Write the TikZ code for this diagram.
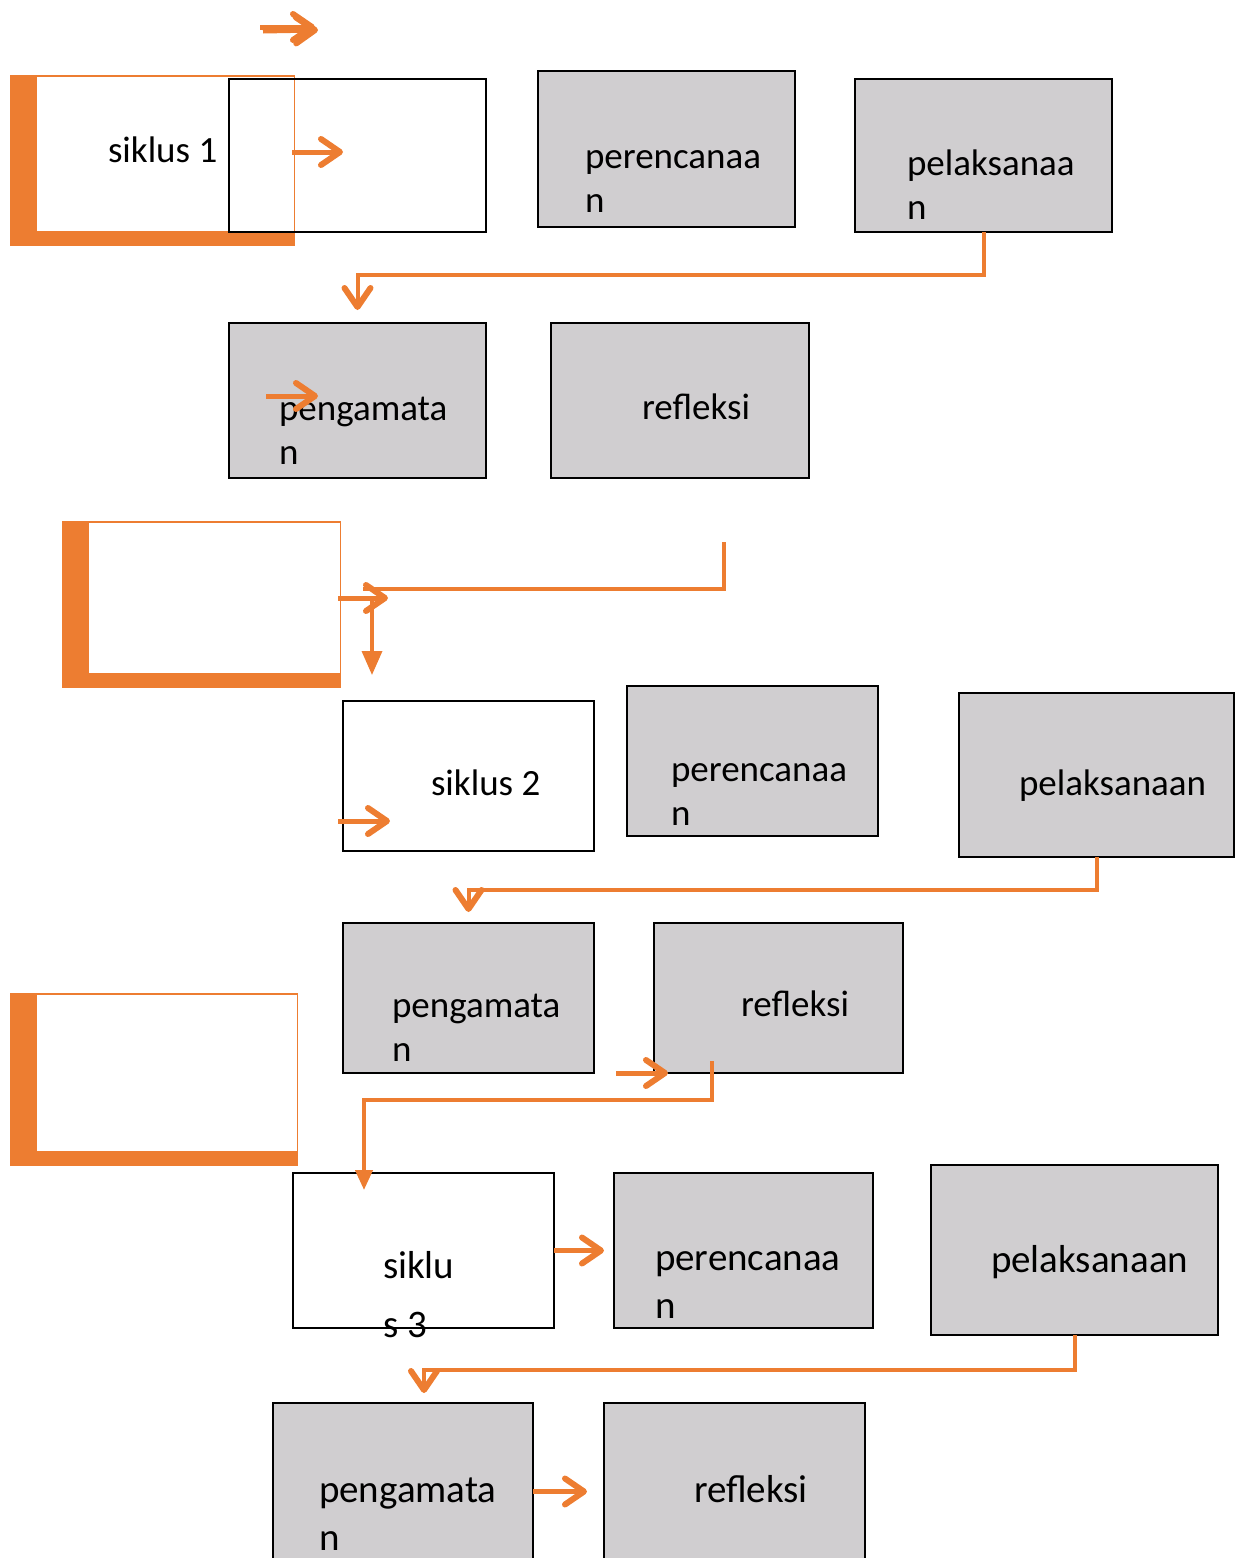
\documentclass[tikz,border=0pt]{standalone}
\usepackage{fontspec}
\setmainfont{Carlito}
\usetikzlibrary{arrows.meta}
\definecolor{org}{HTML}{ED7D31}
\definecolor{boxgray}{RGB}{208,206,208}
\tikzset{
  box/.style={draw=black, line width=2pt, inner sep=0pt, outer sep=0pt, rectangle},
  graybox/.style={box, fill=boxgray},
  whitebox/.style={box},
  txt/.style={inner sep=0pt, outer sep=0pt, anchor=base west, font=\fontsize{37}{44}\selectfont},
  txtb/.style={txt, font=\fontsize{39}{46}\selectfont},
  conn/.style={draw=org, line width=4pt, -{Straight Barb[length=19pt,width=26pt,line width=6pt,round]}},
  tconn/.style={draw=org, line width=4pt, -{Triangle[length=20pt,width=17pt]}},
  sarrow/.style={draw=org, line width=5pt, -{Straight Barb[length=19pt,width=26pt,line width=6pt,round]}},
  plain/.style={draw=org, line width=4pt},
}
\newcommand{\mybox}[6]{\node[#6, minimum width={#4-#2}, minimum height={#5-#3}] (#1) at ({(#2+#4)/2},{(#3+#5)/2}) {};}
\begin{document}
\begin{tikzpicture}[x=1pt,y=-1pt]
\useasboundingbox (0,0) rectangle (1244,1558);
\clip (0,0) rectangle (1244,1558);
% orange frames
\fill[org] (10,75) rectangle (295,246);
\fill[white] (37,76.5) rectangle (293.8,231);
\fill[org] (62,521) rectangle (341,688);
\fill[white] (89,522.5) rectangle (339.8,673);
\fill[org] (10,993) rectangle (298,1166);
\fill[white] (37,994.5) rectangle (296.8,1151);
% boxes
\mybox{sik1}{229}{79}{486}{232}{whitebox}
\mybox{per1}{538}{71}{795}{227}{graybox}
\mybox{pel1}{855}{79}{1112}{232}{graybox}
\mybox{peng1}{229}{323}{486}{478}{graybox}
\mybox{ref1}{551}{323}{809}{478}{graybox}
\mybox{sik2}{343}{701}{594}{851}{whitebox}
\mybox{per2}{627}{686}{878}{836}{graybox}
\mybox{pel2}{959}{693}{1234}{857}{graybox}
\mybox{peng2}{343}{923}{594}{1073}{graybox}
\mybox{ref2}{654}{923}{903}{1073}{graybox}
\mybox{sik3}{293}{1173}{554}{1328}{whitebox}
\mybox{per3}{614}{1173}{873}{1328}{graybox}
\mybox{pel3}{931}{1165}{1218}{1335}{graybox}
\mybox{peng3}{273}{1403}{533}{1580}{graybox}
\mybox{ref3}{604}{1403}{865}{1580}{graybox}
% texts
\node[txt] (t1) at (108,162) {siklus 1};
\node[txt] (t2a) at (585,168) {perencanaa};
\node[txt] (t2b) at (585,212) {n};
\node[txt] (t3a) at (907,175) {pelaksanaa};
\node[txt] (t3b) at (907,219) {n};
\node[txt] (t4a) at (279,420) {pengamata};
\node[txt] (t4b) at (279,464) {n};
\node[txt] (t5) at (642,419) {refleksi};
\node[txt] (t6) at (431,795) {siklus 2};
\node[txt] (t7a) at (671,781) {perencanaa};
\node[txt] (t7b) at (671,825) {n};
\node[txt] (t8) at (1019,795) {pelaksanaan};
\node[txt] (t9a) at (392,1017) {pengamata};
\node[txt] (t9b) at (392,1061) {n};
\node[txt] (t10) at (741,1016) {refleksi};
\node[txtb] (t11a) at (383,1278) {siklu};
\node[txtb] (t11b) at (383,1337) {s 3};
\node[txtb] (t12a) at (655,1270) {perencanaa};
\node[txtb] (t12b) at (655,1318) {n};
\node[txtb] (t13) at (991,1272) {pelaksanaan};
\node[txtb] (t14a) at (319,1502) {pengamata};
\node[txtb] (t14b) at (319,1550) {n};
\node[txtb] (t15) at (694,1502) {refleksi};
% coordinates for free ends
\coordinate (a0s) at (260,27); \coordinate (a0e) at (315,27);
\coordinate (a0s2) at (263,31); \coordinate (a0e2) at (318,30);
\coordinate (a1s) at (292,152); \coordinate (a1e) at (343,152);
\coordinate (a2s) at (266,396); \coordinate (a2e) at (318,396);
\coordinate (c2s) at (724,544); \coordinate (c2m) at (724,589); \coordinate (c2e) at (365,589);
\coordinate (a3s) at (338,598); \coordinate (a3e) at (388,598);
\coordinate (a4s) at (372,598); \coordinate (a4e) at (372,675);
\coordinate (a5s) at (338,821); \coordinate (a5e) at (390,821);
\coordinate (a6s) at (616,1073); \coordinate (a6e) at (668,1073);
\coordinate (c3s) at (712,1061); \coordinate (c3e) at (364,1190);
\coordinate (c4e) at (424,1393);
% connectors
\draw[conn, shorten >=13pt] (pel1.south) -- ++(0,43) -| (peng1.north);
\draw[conn, shorten >=11pt] (pel2.south) -- ++(0,33) -| (peng2.north);
\draw[tconn] (c3s) -- (c3s |- 0,1100) -| (c3e);
\draw[conn] (pel3.south) -- ++(0,35) -| (c4e);
\draw[plain, line cap=rect] (c2s) -- (c2m) -- (c2e);
% small arrows
\draw[sarrow] (a0s) -- (a0e);
\draw[sarrow] (a0s2) -- (a0e2);
\draw[sarrow] (a1s) -- (a1e);
\draw[sarrow] (a2s) -- (a2e);
\draw[sarrow] (a3s) -- (a3e);
\draw[draw=org, line width=3.5pt, -{Triangle[length=24pt,width=20pt]}] (a4s) -- (a4e);
\draw[sarrow] (a5s) -- (a5e);
\draw[sarrow] (a6s) -- (a6e);
\draw[sarrow, shorten >=10pt] (sik3.east) -- (per3.west);
\draw[sarrow, shorten >=17pt] (peng3.east) -- (ref3.west);
\end{tikzpicture}
\end{document}
